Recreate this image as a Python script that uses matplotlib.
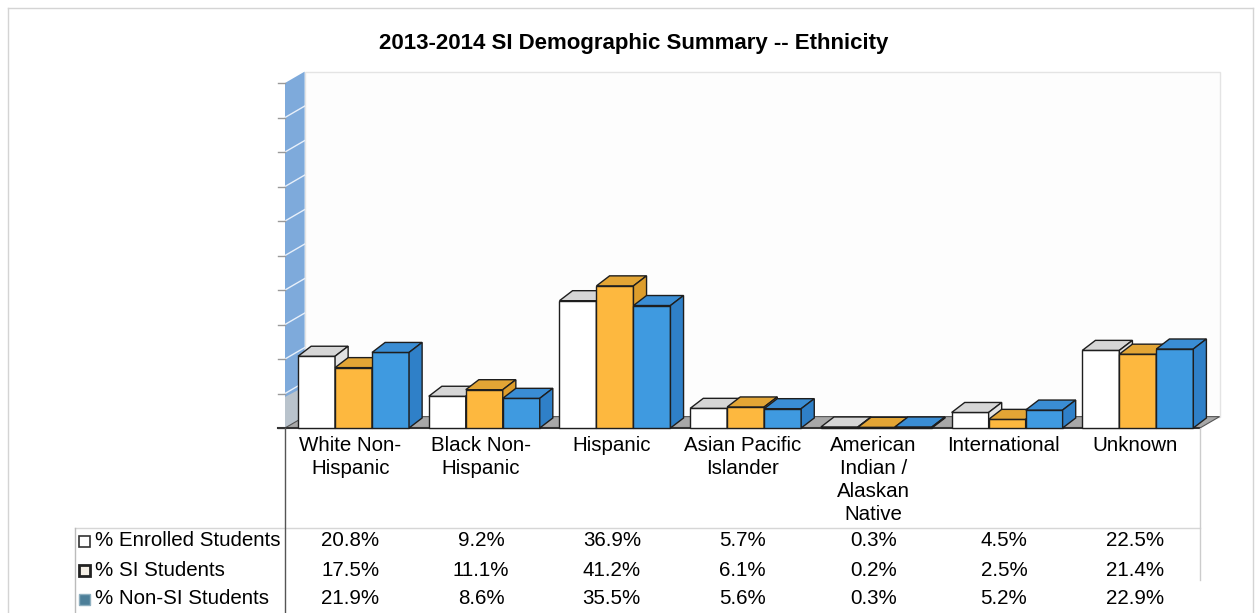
import matplotlib
matplotlib.use("Agg")
import matplotlib.pyplot as plt
from matplotlib.patches import Polygon, Rectangle
from matplotlib.lines import Line2D
from matplotlib.transforms import blended_transform_factory

plt.rcParams['font.family'] = ['Liberation Sans', 'DejaVu Sans']

title = "2013-2014 SI Demographic Summary -- Ethnicity"
categories = ["White Non-\nHispanic", "Black Non-\nHispanic", "Hispanic",
              "Asian Pacific\nIslander", "American\nIndian /\nAlaskan\nNative",
              "International", "Unknown"]
series_names = ["% Enrolled Students", "% SI Students", "% Non-SI Students"]
enrolled = [20.8, 9.2, 36.9, 5.7, 0.3, 4.5, 22.5]
si_students = [17.5, 11.1, 41.2, 6.1, 0.2, 2.5, 21.4]
non_si = [21.9, 8.6, 35.5, 5.6, 0.3, 5.2, 22.9]
series = [enrolled, si_students, non_si]

# front / top / side colours for the fake 3d boxes
front_cols = ["#ffffff", "#fdb83f", "#3f9ae0"]
top_cols = ["#d6d6d6", "#e3a535", "#3a8dd4"]
side_cols = ["#e2e2e2", "#dd9d2c", "#2f80c8"]

W, H = 1259, 613
fig = plt.figure(figsize=(W / 100, H / 100), dpi=100)
FS = 14.8


def fx(px):
    return px / W


def fy(py):
    return 1 - py / H


# outer frame
for xs, ys in [((8, 8), (8, 613)), ((8, 1253), (8, 8)), ((1253, 1253), (8, 613))]:
    fig.add_artist(Line2D([fx(x) for x in xs], [fy(y) for y in ys],
                          color="#d4d4d4", lw=1))

fig.text(fx(634), fy(43), title, ha="center", va="center",
         fontsize=16, fontweight="bold")

# plot area
ax = fig.add_axes([fx(285), fy(428), fx(1200) - fx(285), fy(83) - fy(428)])
ax.set_xlim(0, len(categories))
ax.set_ylim(0, 100)
ax.axis("off")

n = len(categories)
dxw, dyw = 0.15, 3.3   # wall depth
dx, dy = 0.1, 2.9      # bar depth

# back wall
ax.add_patch(Polygon([(dxw, dyw), (n + dxw, dyw), (n + dxw, 100 + dyw), (dxw, 100 + dyw)],
                     closed=True, facecolor="#fdfdfd", edgecolor="#e4e4e4", lw=1,
                     clip_on=False, zorder=0))
# left wall
ax.add_patch(Polygon([(0, 0), (dxw, dyw), (dxw, 100 + dyw), (0, 100)], closed=True,
                     facecolor="#7eaadb", edgecolor="none", clip_on=False, zorder=1))
ax.add_patch(Polygon([(0, 0), (dxw, dyw), (dxw, 12), (0, 9)], closed=True,
                     facecolor="#b9c3cc", edgecolor="none", clip_on=False, zorder=1))
for k in range(10, 100, 10):
    ax.plot([0, dxw], [k, k + dyw], color="#e8f0fa", lw=1, clip_on=False, zorder=2)
for k in range(0, 101, 10):
    ax.plot([-0.05, 0], [k, k], color="#9a9a9a", lw=1, clip_on=False, zorder=2)
# floor
ax.add_patch(Polygon([(0, 0), (n, 0), (n + dxw, dyw), (dxw, dyw)], closed=True,
                     facecolor="#a8a8a8", edgecolor="#555555", lw=0.8,
                     clip_on=False, zorder=1))
ax.plot([-0.05, n], [0, 0], color="#333333", lw=1.5, clip_on=False, zorder=2)

bw = 0.283
z = 3
for i in range(n):
    for j, vals in enumerate(series):
        v = vals[i]
        x = i + 0.1 + j * bw
        ax.bar(x, v, bw, align="edge", color=front_cols[j], edgecolor="#1e1e1e",
               lw=1, zorder=z, clip_on=False)
        ax.add_patch(Polygon([(x, v), (x + bw, v), (x + bw + dx, v + dy), (x + dx, v + dy)],
                             closed=True, facecolor=top_cols[j], edgecolor="#1e1e1e",
                             lw=1, zorder=z, clip_on=False))
        ax.add_patch(Polygon([(x + bw, 0), (x + bw + dx, dy), (x + bw + dx, v + dy), (x + bw, v)],
                             closed=True, facecolor=side_cols[j], edgecolor="#1e1e1e",
                             lw=1, zorder=z, clip_on=False))
        z += 1

# data table
tr = blended_transform_factory(ax.transData, fig.transFigure)
for i, lab in enumerate(categories):
    ax.text(i + 0.5, fy(436), lab, transform=tr, ha="center", va="top",
            fontsize=FS, linespacing=1.27)

row_y = [541, 570, 599]
for r, vals in enumerate(series):
    for i, v in enumerate(vals):
        ax.text(i + 0.5, fy(row_y[r]), f"{v:.1f}%", transform=tr, ha="center",
                va="center", fontsize=FS)
    fig.text(fx(95), fy(row_y[r]), series_names[r], ha="left", va="center",
             fontsize=FS)

marker_face = ["#ffffff", "#f4efe6", "#4d7f99"]
marker_edge = ["#333333", "#222222", "#8fb0c0"]
marker_lw = [1.2, 2.0, 1.0]
for r in range(3):
    fig.add_artist(Rectangle((fx(79), fy(row_y[r] + 6)), fx(11), fy(0) - fy(11),
                             transform=fig.transFigure, facecolor=marker_face[r],
                             edgecolor=marker_edge[r], lw=marker_lw[r]))

for xs, ys, c in [((75, 1200), (528, 528), "#d6d6d6"),
                  ((285, 285), (428, 613), "#555555"),
                  ((1200, 1200), (428, 580), "#cccccc"),
                  ((75, 75), (528, 613), "#bbbbbb")]:
    fig.add_artist(Line2D([fx(x) for x in xs], [fy(y) for y in ys], color=c, lw=1))

fig.savefig("out.png", dpi=100)
